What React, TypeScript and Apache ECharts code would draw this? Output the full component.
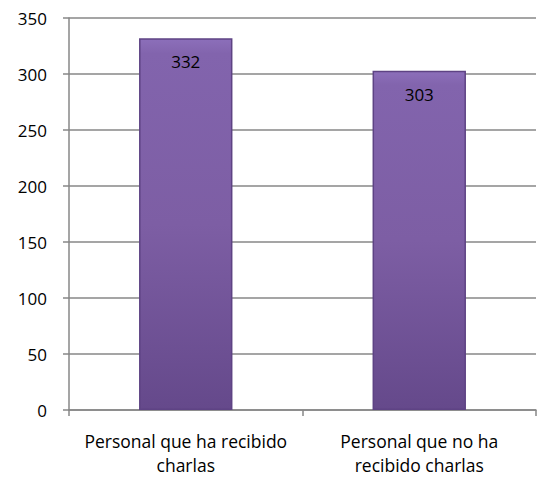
import React, { useEffect, useRef } from "react";
import * as echarts from "echarts";

const categories = ["Personal que ha recibido\ncharlas", "Personal que no ha\nrecibido charlas"];
const values = [332, 303];
const yTicks = { min: 0, max: 350, interval: 50 };

const FONT = "'Open Sans', 'Noto Sans', sans-serif";

export default function App() {
  const ref = useRef<HTMLDivElement>(null);
  useEffect(() => {
    const chart = echarts.init(ref.current!, undefined, { renderer: "svg" });
    chart.setOption({
      animation: false,
      backgroundColor: "#ffffff",
      grid: { left: 69, right: 3, top: 18, bottom: 71, containLabel: false },
      xAxis: {
        type: "category",
        data: categories,
        axisLine: { lineStyle: { color: "#878787", width: 1.5 } },
        axisTick: { show: true, length: 6, lineStyle: { color: "#878787", width: 1.5 } },
        axisLabel: {
          color: "#000",
          fontFamily: FONT,
          fontSize: 17.5,
          lineHeight: 24,
          margin: 19,
          interval: 0,
        },
      },
      yAxis: {
        type: "value",
        min: yTicks.min,
        max: yTicks.max,
        interval: yTicks.interval,
        axisLine: { show: true, lineStyle: { color: "#878787", width: 1.5 } },
        axisTick: { show: true, length: 6, lineStyle: { color: "#878787", width: 1.5 } },
        splitLine: { lineStyle: { color: "#878787", width: 1.5 } },
        axisLabel: {
          color: "#000",
          fontFamily: FONT,
          fontSize: 17,
          margin: 22,
          align: "right",
        },
      },
      series: [
        {
          type: "bar",
          data: values,
          barWidth: "40%",
          itemStyle: {
            color: new echarts.graphic.LinearGradient(0, 0, 0, 1, [
              { offset: 0, color: "#8C6FBA" },
              { offset: 0.04, color: "#8264AD" },
              { offset: 0.5, color: "#7D5EA4" },
              { offset: 1, color: "#65498B" },
            ]),
            borderColor: "#5E4384",
            borderWidth: 1.5,
          },
          label: {
            show: true,
            position: "insideTop",
            distance: 15,
            color: "#000",
            fontFamily: FONT,
            fontSize: 17,
          },
        },
      ],
    });
    return () => chart.dispose();
  }, []);
  return (
    <div
      ref={ref}
      style={{ position: "fixed", left: 0, top: 0, width: 539, height: 481 }}
    />
  );
}
